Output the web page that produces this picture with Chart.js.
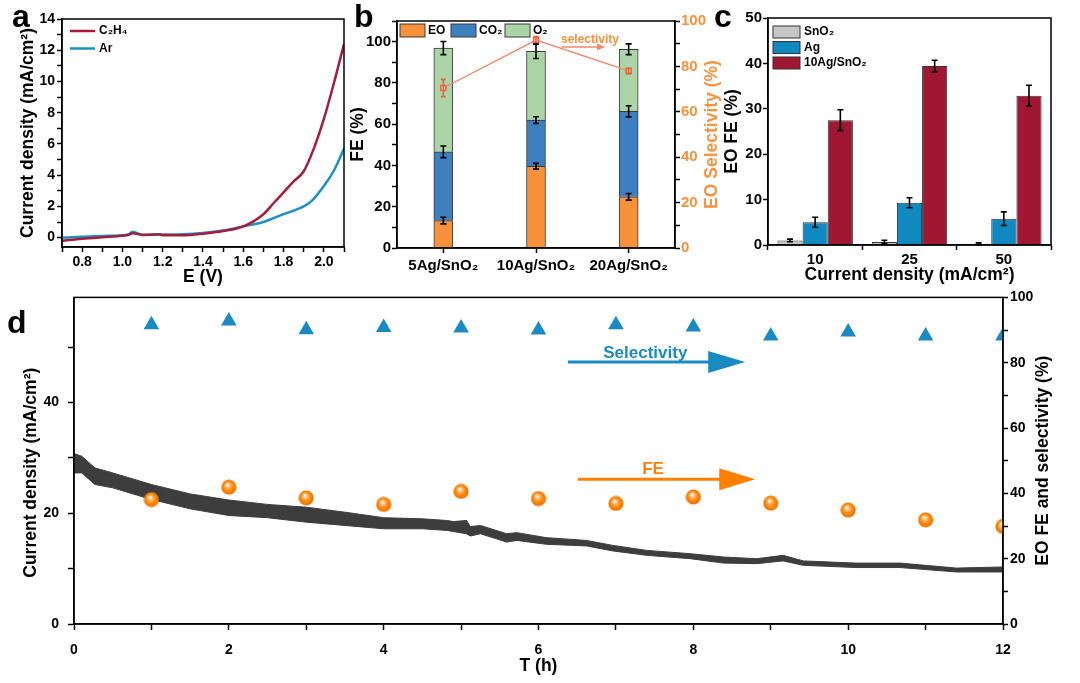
<!DOCTYPE html>
<html>
<head>
<meta charset="utf-8">
<script src="https://cdn.jsdelivr.net/npm/chart.js@4.4.0/dist/chart.umd.min.js"></script>
<style>
  body { margin: 0; width: 1080px; height: 683px; background: #fff; position: relative; overflow: hidden; }
  .panel { position: absolute; }
  .tag { position: absolute; font: bold 32px "Liberation Sans", Arial, sans-serif; line-height: 1; color: #000; }
</style>
</head>
<body>
<div class="panel" style="left:0;top:0;width:360px;height:290px"><canvas id="chartA"></canvas></div>
<div class="panel" style="left:345px;top:0;width:385px;height:290px"><canvas id="chartB"></canvas></div>
<div class="panel" style="left:715px;top:0;width:365px;height:290px"><canvas id="chartC"></canvas></div>
<div class="panel" style="left:0;top:280px;width:1080px;height:403px"><canvas id="chartD"></canvas></div>
<div class="tag" style="left:12px;top:0">a</div>
<div class="tag" style="left:354px;top:0">b</div>
<div class="tag" style="left:714px;top:0">c</div>
<div class="tag" style="left:7px;top:306px">d</div>
<script>
// ---- panel a: LSV curves
const lsvE = [0.7, 0.8, 0.9, 1.0, 1.03, 1.05, 1.08, 1.1, 1.15, 1.18, 1.2, 1.3, 1.4, 1.5, 1.6, 1.7, 1.75, 1.8, 1.85, 1.9, 1.95, 2.0, 2.05, 2.1];
const lsvC2H4 = [-0.2, -0.07, 0.03, 0.12, 0.18, 0.28, 0.22, 0.17, 0.2, 0.22, 0.16, 0.15, 0.25, 0.42, 0.72, 1.5, 2.2, 2.9, 3.6, 4.25, 5.7, 7.6, 9.9, 12.4];
const arE = [0.7, 0.8, 0.9, 1.0, 1.03, 1.05, 1.07, 1.1, 1.2, 1.3, 1.4, 1.5, 1.6, 1.7, 1.75, 1.8, 1.9, 1.94, 2.0, 2.05, 2.1];
const arJ = [0.0, 0.05, 0.1, 0.15, 0.2, 0.38, 0.3, 0.18, 0.2, 0.22, 0.3, 0.45, 0.72, 1.0, 1.25, 1.5, 2.0, 2.35, 3.3, 4.3, 5.7];
const aXTicks = [0.7, 0.8, 0.9, 1.0, 1.1, 1.2, 1.3, 1.4, 1.5, 1.6, 1.7, 1.8, 1.9, 2.0, 2.1];
const aXLabels = [0.8, 1.0, 1.2, 1.4, 1.6, 1.8, 2.0];
const aYTicks = [0, 1, 2, 3, 4, 5, 6, 7, 8, 9, 10, 11, 12, 13, 14];
const aYLabels = [0, 2, 4, 6, 8, 10, 12, 14];

// ---- panel b: FE breakdown + selectivity
const catalysts = ['5Ag/SnO₂', '10Ag/SnO₂', '20Ag/SnO₂'];
const feEO = [13.3, 39.6, 24.8];
const feCO2 = [33.3, 22.4, 41.4];
const feO2 = [50.3, 33.3, 30.1];
const errEO = [1.6, 1.4, 1.6];
const errCO2 = [2.8, 1.6, 2.7];
const errO2 = [3.2, 3.5, 2.6];
const selectivityB = [70.5, 91.6, 78.0];
const errSelB = [3.8, 1.6, 1.2];

// ---- panel c: EO FE vs current density
const densities = ['10', '25', '50'];
const eoSnO2 = [1.0, 0.66, 0.3];
const eoAg = [5.0, 9.3, 5.8];
const eo10Ag = [27.5, 39.4, 32.9];
const errSnO2 = [0.3, 0.4, 0.2];
const errAg = [1.1, 1.1, 1.5];
const err10Ag = [2.3, 1.3, 2.3];

// ---- panel d: stability test
const hours = [1, 2, 3, 4, 5, 6, 7, 8, 9, 10, 11, 12];
const selD = [91.6, 92.8, 90.1, 90.8, 90.6, 90.0, 91.6, 90.9, 88.2, 89.4, 88.2, 88.2];
const feD = [38.1, 41.9, 38.6, 36.6, 40.6, 38.4, 36.9, 38.9, 37.0, 34.9, 31.9, 29.9];
const traceT = [0, 0.1, 0.27, 0.5, 1, 1.5, 2, 2.5, 3, 3.5, 4, 4.5, 4.82, 4.9, 5.07, 5.12, 5.25, 5.59, 5.72, 6.1, 6.62, 6.96, 7.4, 7.96, 8.39, 8.82, 9.16, 9.42, 10.1, 10.67, 11.4, 12];
const traceHigh = [30.8, 30.3, 28.2, 27.3, 25.2, 23.5, 22.4, 21.6, 21.1, 20.2, 19.2, 19.0, 18.7, 18.5, 18.7, 17.6, 17.8, 16.3, 16.5, 15.6, 15.1, 14.2, 13.3, 12.7, 12.1, 11.8, 12.4, 11.4, 11.0, 11.0, 10.1, 10.3];
const traceLow = [27.3, 27.3, 25.2, 24.6, 22.5, 20.8, 19.6, 19.2, 18.4, 17.8, 17.2, 17.2, 16.9, 16.7, 16.3, 15.9, 16.3, 14.8, 15.1, 14.4, 14.1, 13.2, 12.4, 11.8, 11.0, 10.9, 11.4, 10.6, 10.2, 10.2, 9.4, 9.4];
const dXTicks = [0, 1, 2, 3, 4, 5, 6, 7, 8, 9, 10, 11, 12];
const dXLabels = [0, 2, 4, 6, 8, 10, 12];
const dYTicks = [0, 10, 20, 30, 40, 50];
const dYLabels = [0, 20, 40];
const dY1Ticks = [0, 10, 20, 30, 40, 50, 60, 70, 80, 90, 100];
const dY1Labels = [0, 20, 40, 60, 80, 100];

const FONT = '"Liberation Sans", Arial, sans-serif';
Chart.defaults.font.family = FONT;
Chart.defaults.color = '#000';
Chart.defaults.animation = false;

const tickFont = { family: FONT, size: 14, weight: 'bold' };
const tickFont15 = { family: FONT, size: 15, weight: 'bold' };
const titleFont = { family: FONT, size: 17.5, weight: 'bold' };
const grid = { drawOnChartArea: false, drawTicks: true, tickLength: 5, tickColor: '#000', tickWidth: 1.5 };
const border = { color: '#000', width: 1.5 };

const pts = (xs, ys) => xs.map((x, i) => ({ x: x, y: ys[i] }));
const fixTicks = list => scale => { scale.ticks = list.map(v => ({ value: v })); };
const labelIf = list => v => list.some(l => Math.abs(l - v) < 1e-6) ? v : '';
const labelFixed = (list, d) => v => list.some(l => Math.abs(l - v) < 1e-6) ? v.toFixed(d) : '';
const fitW = w => s => { s.width = w; };
const fitH = h => s => { s.height = h; };

const frame = {
  id: 'frame',
  afterDatasetsDraw(chart) {
    const { ctx, chartArea: a } = chart;
    ctx.save();
    ctx.strokeStyle = '#000';
    ctx.lineWidth = 1.5;
    ctx.strokeRect(a.left, a.top, a.right - a.left, a.bottom - a.top);
    ctx.restore();
  }
};

// vertical axis title reading bottom-to-top, placed at x (canvas px), centred on the plot + dy
const sideTitle = (text, color, x, dy) => ({
  id: 'sideTitle',
  afterDraw(chart) {
    const { ctx, chartArea: a } = chart;
    ctx.save();
    ctx.translate(x, (a.top + a.bottom) / 2 + (dy || 0));
    ctx.rotate(-Math.PI / 2);
    ctx.font = 'bold 17.5px ' + FONT;
    ctx.fillStyle = color;
    ctx.textAlign = 'center';
    ctx.textBaseline = 'middle';
    ctx.fillText(text, 0, 0);
    ctx.restore();
  }
});

const errorBars = {
  id: 'errorBars',
  afterDatasetsDraw(chart) {
    const ctx = chart.ctx;
    chart.data.datasets.forEach((ds, i) => {
      if (!ds.errors) return;
      const meta = chart.getDatasetMeta(i);
      const scale = chart.scales[meta.yAxisID];
      ctx.save();
      ctx.strokeStyle = ds.errorColor || '#000';
      ctx.lineWidth = 1.6;
      meta.data.forEach((el, j) => {
        const e = Math.abs(scale.getPixelForValue(ds.errors[j]) - scale.getPixelForValue(0));
        const cap = ds.capHalf || 3;
        ctx.beginPath();
        ctx.moveTo(el.x, el.y - e); ctx.lineTo(el.x, el.y + e);
        ctx.moveTo(el.x - cap, el.y - e); ctx.lineTo(el.x + cap, el.y - e);
        ctx.moveTo(el.x - cap, el.y + e); ctx.lineTo(el.x + cap, el.y + e);
        ctx.stroke();
      });
      ctx.restore();
    });
  }
};

function arrow(ctx, x1, x2, y, color, lw, headLen, headHalf) {
  ctx.save();
  ctx.strokeStyle = color;
  ctx.fillStyle = color;
  ctx.lineWidth = lw;
  ctx.beginPath();
  ctx.moveTo(x1, y); ctx.lineTo(x2 - headLen + 1, y);
  ctx.stroke();
  ctx.beginPath();
  ctx.moveTo(x2, y); ctx.lineTo(x2 - headLen, y - headHalf); ctx.lineTo(x2 - headLen, y + headHalf);
  ctx.closePath();
  ctx.fill();
  ctx.restore();
}

// ---------- a
new Chart(document.getElementById('chartA'), {
  type: 'line',
  data: {
    datasets: [
      { label: 'C₂H₄', data: pts(lsvE, lsvC2H4), borderColor: '#a51d3d', borderWidth: 2.5, pointRadius: 0, cubicInterpolationMode: 'monotone' },
      { label: 'Ar', data: pts(arE, arJ), borderColor: '#1b90c6', borderWidth: 2.5, pointRadius: 0, cubicInterpolationMode: 'monotone' }
    ]
  },
  options: {
    responsive: true,
    maintainAspectRatio: false,
    layout: { padding: { top: 19, right: 16, left: 0, bottom: 0 } },
    plugins: { legend: { display: false }, tooltip: { enabled: false } },
    scales: {
      x: {
        type: 'linear', min: 0.7, max: 2.1,
        afterBuildTicks: fixTicks(aXTicks), afterFit: fitH(43),
        ticks: { font: tickFont, padding: 2, maxRotation: 0, autoSkip: false, callback: labelFixed(aXLabels, 1) },
        grid: grid, border: border,
        title: { display: true, text: 'E (V)', font: titleFont, padding: { top: 0, bottom: 2 } }
      },
      y: {
        min: -0.6, max: 14,
        afterBuildTicks: fixTicks(aYTicks), afterFit: fitW(62),
        ticks: { font: tickFont, padding: 2, autoSkip: false, callback: labelIf(aYLabels) },
        grid: grid, border: border,
        title: { display: true, text: 'Current density (mA/cm²)', font: titleFont, padding: { top: 18, bottom: 0 } }
      }
    }
  },
  plugins: [frame, {
    id: 'legendA',
    afterDatasetsDraw(chart) {
      const { ctx, chartArea: a } = chart;
      ctx.save();
      ctx.font = 'bold 12px ' + FONT;
      ctx.textBaseline = 'middle';
      chart.data.datasets.forEach((ds, i) => {
        const y = a.top + 12 + i * 17.5;
        ctx.strokeStyle = ds.borderColor;
        ctx.lineWidth = 2.5;
        ctx.beginPath(); ctx.moveTo(a.left + 8, y); ctx.lineTo(a.left + 33, y); ctx.stroke();
        ctx.fillStyle = '#000';
        ctx.fillText(ds.label, a.left + 37, y);
      });
      ctx.restore();
    }
  }]
});

// ---------- b
new Chart(document.getElementById('chartB'), {
  type: 'bar',
  data: {
    labels: catalysts,
    datasets: [
      { type: 'line', label: 'selectivity', data: selectivityB, yAxisID: 'y1', order: 0,
        borderColor: '#f5866a', borderWidth: 1.3, pointStyle: 'rect', pointRadius: 3.5,
        pointBackgroundColor: '#ffd0c0', pointBorderColor: '#f0603c', pointBorderWidth: 1.5,
        errors: errSelB, errorColor: '#f0603c', capHalf: 2.5 },
      { label: 'EO', data: feEO, backgroundColor: '#f7913a', borderColor: '#3a3a3a', borderWidth: 1, barThickness: 19, order: 1, errors: errEO },
      { label: 'CO₂', data: feCO2, backgroundColor: '#3e7fbf', borderColor: '#3a3a3a', borderWidth: 1, barThickness: 19, order: 1, errors: errCO2 },
      { label: 'O₂', data: feO2, backgroundColor: '#abd5a6', borderColor: '#3a3a3a', borderWidth: 1, barThickness: 19, order: 1, errors: errO2 }
    ]
  },
  options: {
    responsive: true,
    maintainAspectRatio: false,
    layout: { padding: { top: 21, right: 0, left: 0, bottom: 0 } },
    plugins: { legend: { display: false }, tooltip: { enabled: false } },
    scales: {
      x: {
        stacked: true, afterFit: fitH(42),
        ticks: { font: tickFont15, padding: 4, maxRotation: 0, autoSkip: false },
        grid: Object.assign({}, grid, { offset: false }), border: border
      },
      y: {
        stacked: true, min: 0, max: 110,
        afterBuildTicks: fixTicks([0, 10, 20, 30, 40, 50, 60, 70, 80, 90, 100, 110]), afterFit: fitW(52),
        ticks: { font: tickFont15, padding: 1, autoSkip: false, callback: labelIf([0, 20, 40, 60, 80, 100]) },
        grid: grid, border: border,
        title: { display: true, text: 'FE (%)', font: titleFont, padding: { top: 3, bottom: 0 } }
      },
      y1: {
        position: 'right', min: 0, max: 100,
        afterBuildTicks: fixTicks([0, 10, 20, 30, 40, 50, 60, 70, 80, 90, 100]), afterFit: fitW(55),
        ticks: { font: tickFont15, color: '#f7923e', padding: 1, autoSkip: false, callback: labelIf([0, 20, 40, 60, 80, 100]) },
        grid: grid, border: border
      }
    }
  },
  plugins: [frame, errorBars, sideTitle('EO Selectivity (%)', '#f7923e', 367, 0), {
    id: 'legendB',
    afterDatasetsDraw(chart) {
      const { ctx, chartArea: a } = chart;
      ctx.save();
      ctx.font = 'bold 12px ' + FONT;
      ctx.textBaseline = 'middle';
      const offs = [3, 54, 108];
      chart.data.datasets.slice(1).forEach((ds, i) => {
        const x = a.left + offs[i];
        ctx.fillStyle = ds.backgroundColor;
        ctx.fillRect(x, a.top + 3, 25, 13);
        ctx.strokeStyle = '#3a3a3a';
        ctx.lineWidth = 1;
        ctx.strokeRect(x, a.top + 3, 25, 13);
        ctx.fillStyle = '#000';
        ctx.fillText(ds.label, x + 28, a.top + 10);
      });
      ctx.fillStyle = '#f7923e';
      ctx.textAlign = 'center';
      ctx.fillText('selectivity', a.left + 193, a.top + 19);
      arrow(ctx, a.left + 165, a.left + 208, a.top + 26, '#f5866a', 1.3, 8, 3.5);
      ctx.restore();
    }
  }]
});

// ---------- c
new Chart(document.getElementById('chartC'), {
  type: 'bar',
  data: {
    labels: densities,
    datasets: [
      { label: 'SnO₂', data: eoSnO2, backgroundColor: '#c6c6c6', errors: errSnO2 },
      { label: 'Ag', data: eoAg, backgroundColor: '#0f89c0', errors: errAg },
      { label: '10Ag/SnO₂', data: eo10Ag, backgroundColor: '#a11632', errors: err10Ag }
    ]
  },
  options: {
    responsive: true,
    maintainAspectRatio: false,
    layout: { padding: { top: 18, right: 29, left: 0, bottom: 0 } },
    datasets: { bar: { categoryPercentage: 0.8, barPercentage: 1.0, borderColor: '#333', borderWidth: 1 } },
    plugins: { legend: { display: false }, tooltip: { enabled: false } },
    scales: {
      x: {
        afterFit: fitH(45),
        ticks: { font: tickFont15, padding: 1, maxRotation: 0 },
        grid: grid, border: border,
        title: { display: true, text: 'Current density (mA/cm²)', font: titleFont, padding: { top: 0, bottom: 4 } }
      },
      y: {
        min: 0, max: 50,
        afterBuildTicks: fixTicks([0, 10, 20, 30, 40, 50]), afterFit: fitW(53),
        ticks: { font: tickFont15, padding: 1 },
        grid: grid, border: border,
        title: { display: true, text: 'EO FE (%)', font: titleFont, padding: { top: 7, bottom: 0 } }
      }
    }
  },
  plugins: [frame, errorBars, {
    id: 'legendC',
    afterDatasetsDraw(chart) {
      const { ctx, chartArea: a } = chart;
      ctx.save();
      ctx.font = 'bold 12px ' + FONT;
      ctx.textBaseline = 'middle';
      chart.data.datasets.forEach((ds, i) => {
        const y = a.top + 14 + i * 15.5;
        ctx.fillStyle = ds.backgroundColor;
        ctx.fillRect(a.left + 5, y - 6, 27, 12);
        ctx.strokeStyle = '#333';
        ctx.lineWidth = 1;
        ctx.strokeRect(a.left + 5, y - 6, 27, 12);
        ctx.fillStyle = '#000';
        ctx.fillText(ds.label, a.left + 36, y);
      });
      ctx.restore();
    }
  }]
});

// ---------- d
const sphere = document.createElement('canvas');
sphere.width = 16; sphere.height = 16;
(function () {
  const g = sphere.getContext('2d');
  const grad = g.createRadialGradient(6.5, 5.5, 0.5, 8, 8, 8);
  grad.addColorStop(0, '#ffffff');
  grad.addColorStop(0.22, '#ffc27a');
  grad.addColorStop(0.55, '#ff8a10');
  grad.addColorStop(1, '#e87000');
  g.fillStyle = grad;
  g.beginPath(); g.arc(8, 8, 7.6, 0, Math.PI * 2); g.fill();
})();

new Chart(document.getElementById('chartD'), {
  type: 'line',
  data: {
    datasets: [
      { label: 'trace high', data: pts(traceT, traceHigh), borderColor: '#3d3d3d', backgroundColor: '#3d3d3d', borderWidth: 1, pointRadius: 0, fill: '+1', order: 3 },
      { label: 'trace low', data: pts(traceT, traceLow), borderColor: '#3d3d3d', borderWidth: 1, pointRadius: 0, fill: false, order: 3 },
      { label: 'FE', data: pts(hours, feD), yAxisID: 'y1', showLine: false, pointStyle: sphere, order: 2 },
      { label: 'Selectivity', data: pts(hours, selD), yAxisID: 'y1', showLine: false, pointStyle: 'triangle', pointRadius: 9, pointBackgroundColor: '#1a8bc2', pointBorderColor: '#1a8bc2', pointBorderWidth: 0, order: 1 }
    ]
  },
  options: {
    responsive: true,
    maintainAspectRatio: false,
    layout: { padding: { top: 14, right: 0, left: 0, bottom: 0 } },
    plugins: { legend: { display: false }, tooltip: { enabled: false } },
    scales: {
      x: {
        type: 'linear', min: 0, max: 12,
        afterBuildTicks: fixTicks(dXTicks), afterFit: fitH(59),
        ticks: { font: tickFont, padding: 12, maxRotation: 0, autoSkip: false, callback: labelIf(dXLabels) },
        grid: Object.assign({}, grid, { tickLength: 6 }), border: border,
        title: { display: true, text: 'T (h)', font: titleFont, padding: { top: 0, bottom: 6 } }
      },
      y: {
        min: 0, max: 59,
        afterBuildTicks: fixTicks(dYTicks), afterFit: fitW(74),
        ticks: { font: tickFont, padding: 9, autoSkip: false, callback: labelIf(dYLabels) },
        grid: Object.assign({}, grid, { tickLength: 6 }), border: border
      },
      y1: {
        position: 'right', min: 0, max: 100,
        afterBuildTicks: fixTicks(dY1Ticks), afterFit: fitW(77),
        ticks: { font: tickFont, padding: 2, autoSkip: false, callback: labelIf(dY1Labels) },
        grid: grid, border: border
      }
    }
  },
  plugins: [frame, sideTitle('Current density (mA/cm²)', '#000', 31, 12), sideTitle('EO FE and selectivity (%)', '#000', 1043, 0), {
    id: 'notesD',
    afterDatasetsDraw(chart) {
      const { ctx } = chart;
      const x = chart.scales.x, y = chart.scales.y1;
      ctx.save();
      ctx.font = 'bold 17px ' + FONT;
      ctx.textAlign = 'center';
      ctx.textBaseline = 'middle';
      ctx.fillStyle = '#1a8bc2';
      ctx.fillText('Selectivity', x.getPixelForValue(7.38), y.getPixelForValue(83));
      arrow(ctx, x.getPixelForValue(6.38), x.getPixelForValue(8.67), y.getPixelForValue(80.2), '#1a8bc2', 3, 37, 11);
      ctx.fillStyle = '#ff8000';
      ctx.fillText('FE', x.getPixelForValue(7.48), y.getPixelForValue(47.3));
      arrow(ctx, x.getPixelForValue(6.51), x.getPixelForValue(8.8), y.getPixelForValue(44.3), '#ff8000', 3, 36, 11);
      ctx.restore();
    }
  }]
});
</script>
</body>
</html>
